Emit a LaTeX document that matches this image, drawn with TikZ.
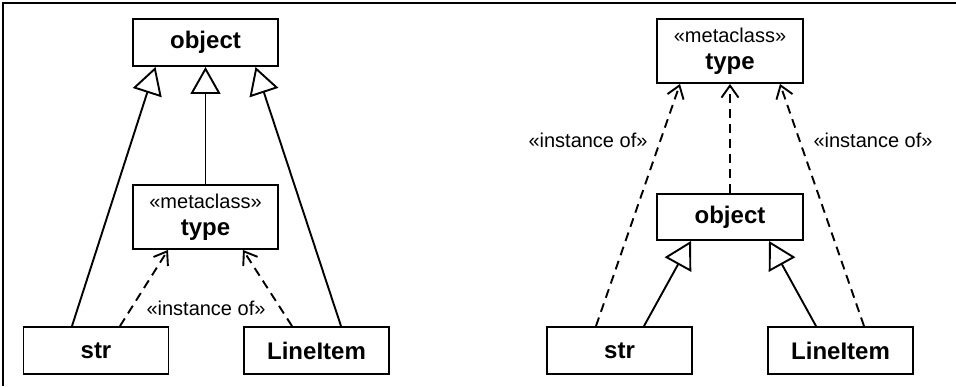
\documentclass[tikz,border=0pt]{standalone}
\usepackage{fontspec}
\setmainfont{Liberation Sans}
\usetikzlibrary{arrows.meta}
\begin{document}
\begin{tikzpicture}[x=1pt,y=-1pt,
  line width=1.9pt,
  cls/.style={draw, line width=1.9pt, minimum width=145pt, minimum height=47pt, inner sep=0pt,
    font=\fontsize{24}{26}\selectfont\bfseries},
  meta/.style={draw, line width=1.9pt, minimum width=145pt, minimum height=64pt, inner sep=0pt, align=center,
    font=\fontsize{20}{27}\selectfont},
  gen/.style={-{Triangle[open,length=27pt,width=30pt,line width=1.9pt]}},
  inst/.style={dashed, dash pattern=on 9pt off 6pt, -{Straight Barb[length=12pt,width=17pt,line width=1.9pt]}},
  lbl/.style={font=\fontsize{20}{22}\selectfont, inner sep=0pt}
]
\useasboundingbox (0,0) rectangle (956,386);
\coordinate (bl) at (3,386);
\coordinate (tl) at (3,3);
\coordinate (tr) at (956,3);
\draw[line width=1.9pt] (bl) -- (tl) -- (tr);

% left diagram
\node[cls] (objL) at (205.5,42.5) {object};
\node[meta] (typeL) at (205.5,217) {«metaclass»\\{\fontsize{24}{27}\selectfont\bfseries type}};
\node[cls] (strL) at (96,350.5) {str};
\node[cls] (liL) at (316.5,350.5) {LineItem};
\node[lbl] (lblL) at (206,308) {«instance of»};

\draw[gen] ([xshift=-24pt]strL.north) -- ([xshift=-50pt]objL.south);
\draw[gen] (typeL.north) -- (objL.south);
\draw[gen] ([xshift=24.5pt]liL.north) -- ([xshift=50pt]objL.south);
\draw[inst] ([xshift=24pt]strL.north) -- ([xshift=-37.5pt]typeL.south);
\draw[inst] ([xshift=-24.5pt]liL.north) -- ([xshift=37.5pt]typeL.south);

% right diagram
\node[meta, minimum width=146pt] (typeR) at (730,51) {«metaclass»\\{\fontsize{24}{27}\selectfont\bfseries type}};
\node[cls, minimum width=146pt, minimum height=46pt] (objR) at (730,217) {object};
\node[cls] (strR) at (619.5,350.5) {str};
\node[cls] (liR) at (840.5,350.5) {LineItem};
\node[lbl] (lblR1) at (588,140) {«instance of»};
\node[lbl] (lblR2) at (873,140) {«instance of»};

\draw[inst] ([xshift=-23.5pt]strR.north) -- ([xshift=-50pt]typeR.south);
\draw[inst] (objR.north) -- (typeR.south);
\draw[inst] ([xshift=23.5pt]liR.north) -- ([xshift=50pt]typeR.south);
\draw[gen] ([xshift=24.5pt]strR.north) -- ([xshift=-39pt]objR.south);
\draw[gen] ([xshift=-24.5pt]liR.north) -- ([xshift=39pt]objR.south);
\end{tikzpicture}
\end{document}
